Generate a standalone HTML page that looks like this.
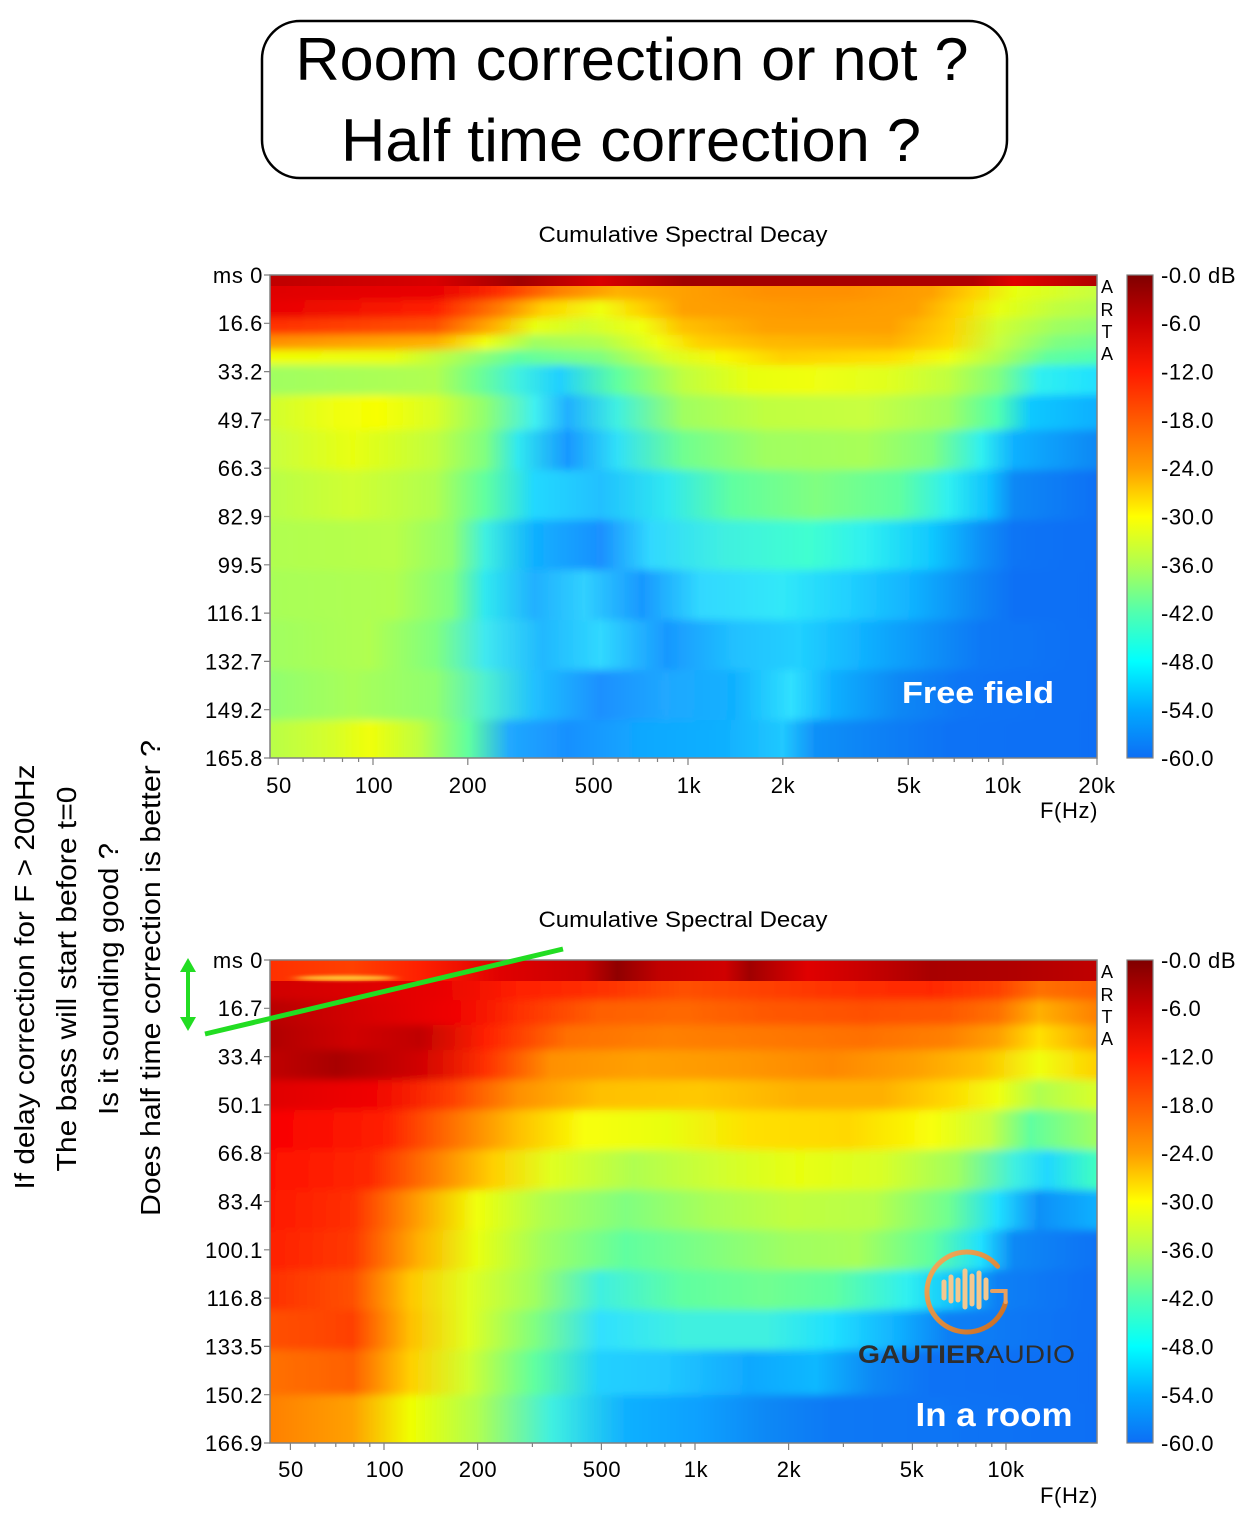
<!DOCTYPE html>
<html><head><meta charset="utf-8"><style>
html,body{margin:0;padding:0;background:#fff}
svg{display:block}
text{font-family:"Liberation Sans",Arial,sans-serif}
</style></head><body>
<svg xmlns="http://www.w3.org/2000/svg" width="1257" height="1517" viewBox="0 0 1257 1517">
<defs>
<filter id="vb" x="0" y="-0.05" width="1" height="1.1"><feGaussianBlur stdDeviation="0 4"/></filter>
<filter id="sb" x="-0.5" y="-2" width="2" height="5"><feGaussianBlur stdDeviation="6 1.5"/></filter>
<clipPath id="c1"><rect x="270" y="275" width="827" height="483"/></clipPath>
<clipPath id="c2"><rect x="270" y="960" width="827" height="483"/></clipPath>
<linearGradient id="cb" x1="0" y1="0" x2="0" y2="1">
<stop offset="0" stop-color="#7f0000"/><stop offset="0.1" stop-color="#c80000"/><stop offset="0.2" stop-color="#ff1a00"/><stop offset="0.3" stop-color="#ff5a00"/><stop offset="0.4" stop-color="#ff9c00"/><stop offset="0.5" stop-color="#ffff00"/><stop offset="0.6" stop-color="#b0ff50"/><stop offset="0.7" stop-color="#50ffb0"/><stop offset="0.8" stop-color="#00ffff"/><stop offset="0.9" stop-color="#00aaff"/><stop offset="1" stop-color="#0d6ef5"/>
</linearGradient>
<linearGradient id="a0"><stop offset="0" stop-color="#c00000"/><stop offset="0.2" stop-color="#d80000"/><stop offset="0.3" stop-color="#a00000"/><stop offset="0.4" stop-color="#d80000"/><stop offset="0.5" stop-color="#a00000"/><stop offset="0.7" stop-color="#a80000"/><stop offset="0.85" stop-color="#b00000"/><stop offset="0.9" stop-color="#e00000"/><stop offset="1" stop-color="#b00000"/></linearGradient>
<linearGradient id="a1"><stop offset="0" stop-color="#e00000"/><stop offset="0.2" stop-color="#e80000"/><stop offset="0.28" stop-color="#ff3000"/><stop offset="0.35" stop-color="#ff8000"/><stop offset="0.42" stop-color="#ffb000"/><stop offset="0.5" stop-color="#ffa000"/><stop offset="0.6" stop-color="#ff9000"/><stop offset="0.7" stop-color="#ff9000"/><stop offset="0.8" stop-color="#ffa000"/><stop offset="0.85" stop-color="#ffd000"/><stop offset="0.9" stop-color="#e8ff10"/><stop offset="1" stop-color="#c8ff40"/></linearGradient>
<linearGradient id="a2"><stop offset="0" stop-color="#e80000"/><stop offset="0.2" stop-color="#ff2000"/><stop offset="0.28" stop-color="#ff8000"/><stop offset="0.33" stop-color="#ffd000"/><stop offset="0.4" stop-color="#f0ff10"/><stop offset="0.45" stop-color="#ffd000"/><stop offset="0.5" stop-color="#ffa000"/><stop offset="0.65" stop-color="#ff9800"/><stop offset="0.78" stop-color="#ffa000"/><stop offset="0.83" stop-color="#ffd000"/><stop offset="0.88" stop-color="#e8ff10"/><stop offset="0.95" stop-color="#c0ff40"/><stop offset="1" stop-color="#b0ff50"/></linearGradient>
<linearGradient id="a3"><stop offset="0" stop-color="#ff3000"/><stop offset="0.2" stop-color="#ff5000"/><stop offset="0.27" stop-color="#ffb000"/><stop offset="0.32" stop-color="#e8ff10"/><stop offset="0.38" stop-color="#d0ff30"/><stop offset="0.45" stop-color="#f0ff10"/><stop offset="0.5" stop-color="#ffc000"/><stop offset="0.6" stop-color="#ffa000"/><stop offset="0.75" stop-color="#ffa000"/><stop offset="0.82" stop-color="#ffd000"/><stop offset="0.88" stop-color="#d0ff30"/><stop offset="0.95" stop-color="#a0ff60"/><stop offset="1" stop-color="#90ff70"/></linearGradient>
<linearGradient id="a4"><stop offset="0" stop-color="#ff9000"/><stop offset="0.2" stop-color="#ffb000"/><stop offset="0.26" stop-color="#f0ff10"/><stop offset="0.32" stop-color="#a0ff60"/><stop offset="0.4" stop-color="#b0ff50"/><stop offset="0.47" stop-color="#f0ff10"/><stop offset="0.52" stop-color="#ffd000"/><stop offset="0.6" stop-color="#ffb800"/><stop offset="0.75" stop-color="#ffb000"/><stop offset="0.82" stop-color="#ffd800"/><stop offset="0.88" stop-color="#c8ff40"/><stop offset="0.95" stop-color="#80ff80"/><stop offset="1" stop-color="#70ff90"/></linearGradient>
<linearGradient id="a5"><stop offset="0" stop-color="#f0ff00"/><stop offset="0.15" stop-color="#e8ff10"/><stop offset="0.22" stop-color="#b0ff50"/><stop offset="0.3" stop-color="#60ffa0"/><stop offset="0.4" stop-color="#80ff80"/><stop offset="0.48" stop-color="#d8ff28"/><stop offset="0.55" stop-color="#f8f800"/><stop offset="0.62" stop-color="#ffd000"/><stop offset="0.75" stop-color="#ffe000"/><stop offset="0.82" stop-color="#f0ff10"/><stop offset="0.88" stop-color="#b0ff50"/><stop offset="0.94" stop-color="#60ffa0"/><stop offset="1" stop-color="#50ffb0"/></linearGradient>
<linearGradient id="a6"><stop offset="0" stop-color="#a0ff60"/><stop offset="0.2" stop-color="#b0ff50"/><stop offset="0.25" stop-color="#70ff90"/><stop offset="0.3" stop-color="#40f0e0"/><stop offset="0.35" stop-color="#20d0ff"/><stop offset="0.42" stop-color="#60ffa0"/><stop offset="0.5" stop-color="#c0ff40"/><stop offset="0.58" stop-color="#e8ff10"/><stop offset="0.65" stop-color="#f0ff10"/><stop offset="0.75" stop-color="#e0ff20"/><stop offset="0.82" stop-color="#c0ff40"/><stop offset="0.88" stop-color="#80ff80"/><stop offset="0.93" stop-color="#30f0f0"/><stop offset="1" stop-color="#20e0ff"/></linearGradient>
<linearGradient id="a7"><stop offset="0" stop-color="#d0ff30"/><stop offset="0.08" stop-color="#f0ff10"/><stop offset="0.13" stop-color="#f8ff00"/><stop offset="0.2" stop-color="#d8ff28"/><stop offset="0.26" stop-color="#90ff70"/><stop offset="0.32" stop-color="#40f0f0"/><stop offset="0.36" stop-color="#20b0ff"/><stop offset="0.42" stop-color="#40f0e0"/><stop offset="0.5" stop-color="#a0ff60"/><stop offset="0.6" stop-color="#c0ff40"/><stop offset="0.72" stop-color="#c8ff40"/><stop offset="0.82" stop-color="#a0ff60"/><stop offset="0.88" stop-color="#50ffb0"/><stop offset="0.92" stop-color="#10c8ff"/><stop offset="1" stop-color="#10b0ff"/></linearGradient>
<linearGradient id="a8"><stop offset="0" stop-color="#c8ff40"/><stop offset="0.1" stop-color="#e8ff10"/><stop offset="0.2" stop-color="#c0ff40"/><stop offset="0.26" stop-color="#80ff80"/><stop offset="0.3" stop-color="#30e8f0"/><stop offset="0.36" stop-color="#1898ff"/><stop offset="0.42" stop-color="#30e0f8"/><stop offset="0.5" stop-color="#70ff90"/><stop offset="0.6" stop-color="#a0ff60"/><stop offset="0.72" stop-color="#a8ff58"/><stop offset="0.8" stop-color="#80ff80"/><stop offset="0.86" stop-color="#30f0f0"/><stop offset="0.9" stop-color="#10b0ff"/><stop offset="1" stop-color="#0d88f5"/></linearGradient>
<linearGradient id="a9"><stop offset="0" stop-color="#b8ff48"/><stop offset="0.1" stop-color="#d0ff30"/><stop offset="0.2" stop-color="#b0ff50"/><stop offset="0.26" stop-color="#60ffa0"/><stop offset="0.32" stop-color="#20d8ff"/><stop offset="0.4" stop-color="#20c0ff"/><stop offset="0.48" stop-color="#30e8f0"/><stop offset="0.56" stop-color="#60ffa0"/><stop offset="0.66" stop-color="#80ff80"/><stop offset="0.76" stop-color="#60ffa0"/><stop offset="0.82" stop-color="#30f0f0"/><stop offset="0.87" stop-color="#10c0ff"/><stop offset="0.9" stop-color="#0d88f5"/><stop offset="1" stop-color="#0d70f5"/></linearGradient>
<linearGradient id="a10"><stop offset="0" stop-color="#b0ff50"/><stop offset="0.15" stop-color="#b8ff48"/><stop offset="0.22" stop-color="#90ff70"/><stop offset="0.26" stop-color="#40f0e0"/><stop offset="0.32" stop-color="#10b0ff"/><stop offset="0.4" stop-color="#1a90ff"/><stop offset="0.46" stop-color="#30d8ff"/><stop offset="0.55" stop-color="#40f0e0"/><stop offset="0.65" stop-color="#40ffd0"/><stop offset="0.72" stop-color="#30f0f0"/><stop offset="0.8" stop-color="#10c8ff"/><stop offset="0.86" stop-color="#0d90f8"/><stop offset="0.9" stop-color="#0d74f5"/><stop offset="1" stop-color="#0d6ef5"/></linearGradient>
<linearGradient id="a11"><stop offset="0" stop-color="#a8ff58"/><stop offset="0.15" stop-color="#b0ff50"/><stop offset="0.22" stop-color="#80ff80"/><stop offset="0.26" stop-color="#30e8f0"/><stop offset="0.32" stop-color="#20b0ff"/><stop offset="0.38" stop-color="#30d0ff"/><stop offset="0.45" stop-color="#1898ff"/><stop offset="0.52" stop-color="#30d8ff"/><stop offset="0.62" stop-color="#30e8f8"/><stop offset="0.7" stop-color="#20d0ff"/><stop offset="0.78" stop-color="#10b0ff"/><stop offset="0.85" stop-color="#0d88f5"/><stop offset="0.9" stop-color="#0d70f5"/><stop offset="1" stop-color="#0d6ef5"/></linearGradient>
<linearGradient id="a12"><stop offset="0" stop-color="#a0ff60"/><stop offset="0.12" stop-color="#b0ff50"/><stop offset="0.2" stop-color="#80ff80"/><stop offset="0.26" stop-color="#40e8f0"/><stop offset="0.33" stop-color="#20b8ff"/><stop offset="0.4" stop-color="#30d8ff"/><stop offset="0.48" stop-color="#1898ff"/><stop offset="0.56" stop-color="#20c0ff"/><stop offset="0.64" stop-color="#20d0ff"/><stop offset="0.72" stop-color="#10b0ff"/><stop offset="0.8" stop-color="#0d90f8"/><stop offset="0.86" stop-color="#0d78f5"/><stop offset="1" stop-color="#0d6ef5"/></linearGradient>
<linearGradient id="a13"><stop offset="0" stop-color="#90ff70"/><stop offset="0.1" stop-color="#a8ff58"/><stop offset="0.2" stop-color="#90ff70"/><stop offset="0.26" stop-color="#50f0d0"/><stop offset="0.32" stop-color="#20c0ff"/><stop offset="0.4" stop-color="#1a90ff"/><stop offset="0.48" stop-color="#20a8ff"/><stop offset="0.56" stop-color="#10b0ff"/><stop offset="0.63" stop-color="#30e0ff"/><stop offset="0.68" stop-color="#10b0ff"/><stop offset="0.76" stop-color="#0d88f5"/><stop offset="0.84" stop-color="#0d74f5"/><stop offset="1" stop-color="#0d6ef5"/></linearGradient>
<linearGradient id="a14"><stop offset="0" stop-color="#b8ff48"/><stop offset="0.08" stop-color="#d8ff28"/><stop offset="0.12" stop-color="#f0ff08"/><stop offset="0.18" stop-color="#c0ff40"/><stop offset="0.24" stop-color="#60ffa0"/><stop offset="0.29" stop-color="#20a8ff"/><stop offset="0.36" stop-color="#1890ff"/><stop offset="0.45" stop-color="#10a8ff"/><stop offset="0.55" stop-color="#10b0ff"/><stop offset="0.62" stop-color="#20c8ff"/><stop offset="0.66" stop-color="#1090f8"/><stop offset="0.74" stop-color="#0d80f5"/><stop offset="0.82" stop-color="#0d72f5"/><stop offset="1" stop-color="#0d6ef5"/></linearGradient>

<linearGradient id="b0"><stop offset="0" stop-color="#ff3000"/><stop offset="0.1" stop-color="#ff4000"/><stop offset="0.18" stop-color="#ff2000"/><stop offset="0.28" stop-color="#e00000"/><stop offset="0.38" stop-color="#c80000"/><stop offset="0.42" stop-color="#900000"/><stop offset="0.47" stop-color="#c00000"/><stop offset="0.55" stop-color="#d00000"/><stop offset="0.58" stop-color="#a00000"/><stop offset="0.65" stop-color="#e00000"/><stop offset="0.72" stop-color="#c80000"/><stop offset="0.8" stop-color="#a80000"/><stop offset="0.9" stop-color="#b00000"/><stop offset="1" stop-color="#c00000"/></linearGradient>
<linearGradient id="b1"><stop offset="0" stop-color="#d00000"/><stop offset="0.2" stop-color="#e80000"/><stop offset="0.3" stop-color="#ff2000"/><stop offset="0.4" stop-color="#ff3000"/><stop offset="0.5" stop-color="#ff5000"/><stop offset="0.6" stop-color="#ff4000"/><stop offset="0.7" stop-color="#ff3000"/><stop offset="0.8" stop-color="#ff2800"/><stop offset="0.88" stop-color="#ff4000"/><stop offset="0.93" stop-color="#ff7000"/><stop offset="1" stop-color="#ff6000"/></linearGradient>
<linearGradient id="b2"><stop offset="0" stop-color="#b80000"/><stop offset="0.12" stop-color="#d80000"/><stop offset="0.22" stop-color="#f00000"/><stop offset="0.3" stop-color="#ff3000"/><stop offset="0.4" stop-color="#ff6000"/><stop offset="0.5" stop-color="#ff6800"/><stop offset="0.6" stop-color="#ff5800"/><stop offset="0.72" stop-color="#ff5000"/><stop offset="0.82" stop-color="#ff5800"/><stop offset="0.88" stop-color="#ff7000"/><stop offset="0.93" stop-color="#ffb000"/><stop offset="1" stop-color="#ff8000"/></linearGradient>
<linearGradient id="b3"><stop offset="0" stop-color="#b00000"/><stop offset="0.1" stop-color="#d00000"/><stop offset="0.18" stop-color="#c00000"/><stop offset="0.26" stop-color="#ff2000"/><stop offset="0.36" stop-color="#ff7000"/><stop offset="0.48" stop-color="#ff8000"/><stop offset="0.6" stop-color="#ff7800"/><stop offset="0.72" stop-color="#ff7000"/><stop offset="0.82" stop-color="#ff8000"/><stop offset="0.88" stop-color="#ffa000"/><stop offset="0.93" stop-color="#ffe000"/><stop offset="1" stop-color="#ffa000"/></linearGradient>
<linearGradient id="b4"><stop offset="0" stop-color="#c00000"/><stop offset="0.08" stop-color="#a80000"/><stop offset="0.18" stop-color="#d00000"/><stop offset="0.26" stop-color="#ff3000"/><stop offset="0.34" stop-color="#ff9000"/><stop offset="0.45" stop-color="#ffa000"/><stop offset="0.56" stop-color="#ff9800"/><stop offset="0.68" stop-color="#ff8800"/><stop offset="0.78" stop-color="#ffa000"/><stop offset="0.86" stop-color="#ffc000"/><stop offset="0.93" stop-color="#f0ff10"/><stop offset="1" stop-color="#ffd000"/></linearGradient>
<linearGradient id="b5"><stop offset="0" stop-color="#e00000"/><stop offset="0.12" stop-color="#f00000"/><stop offset="0.22" stop-color="#ff4000"/><stop offset="0.3" stop-color="#ff9000"/><stop offset="0.4" stop-color="#ffc000"/><stop offset="0.52" stop-color="#ffc800"/><stop offset="0.64" stop-color="#ffb000"/><stop offset="0.74" stop-color="#ffb000"/><stop offset="0.82" stop-color="#ffd800"/><stop offset="0.88" stop-color="#f0ff10"/><stop offset="0.93" stop-color="#b0ff50"/><stop offset="1" stop-color="#d8ff28"/></linearGradient>
<linearGradient id="b6"><stop offset="0" stop-color="#f80000"/><stop offset="0.14" stop-color="#ff2000"/><stop offset="0.22" stop-color="#ff7000"/><stop offset="0.3" stop-color="#ffc000"/><stop offset="0.38" stop-color="#f8ff08"/><stop offset="0.48" stop-color="#e8ff10"/><stop offset="0.58" stop-color="#ffe000"/><stop offset="0.7" stop-color="#ffd800"/><stop offset="0.8" stop-color="#f8ff08"/><stop offset="0.87" stop-color="#c8ff40"/><stop offset="0.92" stop-color="#60ffa0"/><stop offset="1" stop-color="#a0ff60"/></linearGradient>
<linearGradient id="b7"><stop offset="0" stop-color="#ff1000"/><stop offset="0.12" stop-color="#ff2800"/><stop offset="0.2" stop-color="#ff8000"/><stop offset="0.27" stop-color="#ffd000"/><stop offset="0.34" stop-color="#e0ff20"/><stop offset="0.44" stop-color="#b0ff50"/><stop offset="0.54" stop-color="#d0ff30"/><stop offset="0.64" stop-color="#e8ff10"/><stop offset="0.74" stop-color="#d8ff28"/><stop offset="0.83" stop-color="#a0ff60"/><stop offset="0.9" stop-color="#40f0e0"/><stop offset="0.94" stop-color="#20d8ff"/><stop offset="1" stop-color="#40ffc0"/></linearGradient>
<linearGradient id="b8"><stop offset="0" stop-color="#ff1800"/><stop offset="0.1" stop-color="#ff3000"/><stop offset="0.18" stop-color="#ffa000"/><stop offset="0.25" stop-color="#f0ff08"/><stop offset="0.33" stop-color="#b0ff50"/><stop offset="0.43" stop-color="#80ff80"/><stop offset="0.53" stop-color="#a8ff58"/><stop offset="0.63" stop-color="#c0ff40"/><stop offset="0.73" stop-color="#b8ff48"/><stop offset="0.82" stop-color="#70ff90"/><stop offset="0.88" stop-color="#20e0ff"/><stop offset="0.93" stop-color="#1090f8"/><stop offset="1" stop-color="#10b0ff"/></linearGradient>
<linearGradient id="b9"><stop offset="0" stop-color="#ff2000"/><stop offset="0.1" stop-color="#ff3800"/><stop offset="0.18" stop-color="#ffb000"/><stop offset="0.25" stop-color="#e8ff10"/><stop offset="0.33" stop-color="#a0ff60"/><stop offset="0.43" stop-color="#60ffa0"/><stop offset="0.53" stop-color="#80ff80"/><stop offset="0.63" stop-color="#a0ff60"/><stop offset="0.71" stop-color="#a8ff58"/><stop offset="0.8" stop-color="#60ffa0"/><stop offset="0.86" stop-color="#20e0ff"/><stop offset="0.9" stop-color="#0d88f5"/><stop offset="1" stop-color="#0d72f5"/></linearGradient>
<linearGradient id="b10"><stop offset="0" stop-color="#ff3000"/><stop offset="0.1" stop-color="#ff5000"/><stop offset="0.17" stop-color="#ffc800"/><stop offset="0.24" stop-color="#e0ff20"/><stop offset="0.32" stop-color="#a0ff60"/><stop offset="0.4" stop-color="#40f0e0"/><stop offset="0.5" stop-color="#60ffa0"/><stop offset="0.6" stop-color="#70ff90"/><stop offset="0.68" stop-color="#60ffa0"/><stop offset="0.77" stop-color="#30f0f0"/><stop offset="0.83" stop-color="#10c0ff"/><stop offset="0.88" stop-color="#0d80f5"/><stop offset="1" stop-color="#0d6ef5"/></linearGradient>
<linearGradient id="b11"><stop offset="0" stop-color="#ff5000"/><stop offset="0.1" stop-color="#ff4000"/><stop offset="0.17" stop-color="#ffc000"/><stop offset="0.24" stop-color="#e0ff20"/><stop offset="0.32" stop-color="#80ff80"/><stop offset="0.4" stop-color="#30e0ff"/><stop offset="0.5" stop-color="#40f0e0"/><stop offset="0.6" stop-color="#40f0e0"/><stop offset="0.68" stop-color="#20e0ff"/><stop offset="0.76" stop-color="#10b0ff"/><stop offset="0.82" stop-color="#0d80f5"/><stop offset="1" stop-color="#0d6ef5"/></linearGradient>
<linearGradient id="b12"><stop offset="0" stop-color="#ff7000"/><stop offset="0.1" stop-color="#ff6000"/><stop offset="0.17" stop-color="#ffd000"/><stop offset="0.24" stop-color="#d0ff30"/><stop offset="0.32" stop-color="#60ffa0"/><stop offset="0.4" stop-color="#20d0ff"/><stop offset="0.48" stop-color="#20c8ff"/><stop offset="0.58" stop-color="#10a8ff"/><stop offset="0.66" stop-color="#10b8ff"/><stop offset="0.73" stop-color="#0d88f5"/><stop offset="0.8" stop-color="#0d72f5"/><stop offset="1" stop-color="#0d6ef5"/></linearGradient>
<linearGradient id="b13"><stop offset="0" stop-color="#ff8000"/><stop offset="0.1" stop-color="#ffa000"/><stop offset="0.17" stop-color="#f0ff00"/><stop offset="0.25" stop-color="#b0ff50"/><stop offset="0.34" stop-color="#40f0e0"/><stop offset="0.43" stop-color="#10b0ff"/><stop offset="0.52" stop-color="#10a0ff"/><stop offset="0.6" stop-color="#0d88f5"/><stop offset="0.68" stop-color="#0d78f5"/><stop offset="1" stop-color="#0d6ef5"/></linearGradient>
<linearGradient id="logo" x1="0" y1="0" x2="1" y2="1"><stop offset="0" stop-color="#f3b060"/><stop offset="1" stop-color="#c86a20"/></linearGradient>
</defs>

<rect width="1257" height="1517" fill="#fff"/>

<!-- Title box -->
<rect x="262" y="21" width="745" height="157" rx="38" ry="38" fill="none" stroke="#000" stroke-width="2.5"/>
<text x="632" y="80" font-size="60" text-anchor="middle" textLength="673" lengthAdjust="spacingAndGlyphs">Room correction or not ?</text>
<text x="631" y="161" font-size="60" text-anchor="middle" textLength="580" lengthAdjust="spacingAndGlyphs">Half time correction ?</text>

<!-- Chart 1 -->
<text x="683" y="242" font-size="22" text-anchor="middle" textLength="289" lengthAdjust="spacingAndGlyphs">Cumulative Spectral Decay</text>
<g clip-path="url(#c1)">
<g filter="url(#vb)">
<rect x="270" y="265" width="827" height="35" fill="url(#a1)"/>
<rect x="270" y="300" width="827" height="18" fill="url(#a2)"/>
<rect x="270" y="318" width="827" height="17" fill="url(#a3)"/>
<rect x="270" y="335" width="827" height="15" fill="url(#a4)"/>
<rect x="270" y="350" width="827" height="15" fill="url(#a5)"/>
<rect x="270" y="365" width="827" height="30" fill="url(#a6)"/>
<rect x="270" y="395" width="827" height="35" fill="url(#a7)"/>
<rect x="270" y="430" width="827" height="40" fill="url(#a8)"/>
<rect x="270" y="470" width="827" height="50" fill="url(#a9)"/>
<rect x="270" y="520" width="827" height="50" fill="url(#a10)"/>
<rect x="270" y="570" width="827" height="50" fill="url(#a11)"/>
<rect x="270" y="620" width="827" height="50" fill="url(#a12)"/>
<rect x="270" y="670" width="827" height="50" fill="url(#a13)"/>
<rect x="270" y="720" width="827" height="55" fill="url(#a14)"/>
</g>
<rect x="270" y="275" width="827" height="11" fill="url(#a0)"/>
</g>
<rect x="270" y="275" width="827" height="483" fill="none" stroke="#808080" stroke-width="1.5"/>
<text x="978" y="703" font-size="31" font-weight="bold" fill="#fff" text-anchor="middle" textLength="152" lengthAdjust="spacingAndGlyphs">Free field</text>

<g stroke="#808080" stroke-width="1.2">
<path d="M264 275H270M264 323.3H270M264 371.6H270M264 419.9H270M264 468.2H270M264 516.5H270M264 564.8H270M264 613.1H270M264 661.4H270M264 709.7H270M264 758H270"/>
<path d="M278.2 758v7M373 758v7M467.8 758v7M593.2 758v7M688 758v7M782.8 758v7M908.2 758v7M1003 758v7M1097 758v7M303.1 758v4M324.2 758v4M342.5 758v4M358.6 758v4M523.3 758v4M562.6 758v4M618.1 758v4M639.2 758v4M657.5 758v4M673.6 758v4M838.3 758v4M877.6 758v4M933.1 758v4M954.2 758v4M972.5 758v4M988.6 758v4"/>
</g>
<g font-size="22" text-anchor="end" letter-spacing="0.6">
<text x="263" y="283">ms 0</text><text x="263" y="331">16.6</text><text x="263" y="379.6">33.2</text><text x="263" y="428">49.7</text><text x="263" y="476">66.3</text><text x="263" y="524.5">82.9</text><text x="263" y="573">99.5</text><text x="263" y="621">116.1</text><text x="263" y="669.5">132.7</text><text x="263" y="718">149.2</text><text x="263" y="766">165.8</text>
</g>
<g font-size="22" text-anchor="middle" letter-spacing="0.6">
<text x="279" y="793">50</text><text x="374" y="793">100</text><text x="468" y="793">200</text><text x="594" y="793">500</text><text x="689" y="793">1k</text><text x="783" y="793">2k</text><text x="909" y="793">5k</text><text x="1003" y="793">10k</text><text x="1097" y="793">20k</text>
</g>
<text x="1098" y="818" font-size="22" text-anchor="end" letter-spacing="0.6">F(Hz)</text>
<g font-size="18" text-anchor="middle">
<text x="1107" y="293">A</text><text x="1107" y="316">R</text><text x="1107" y="338">T</text><text x="1107" y="360">A</text>
</g>
<rect x="1127" y="275" width="26" height="483" fill="url(#cb)" stroke="#808080" stroke-width="1.2"/>
<g font-size="22" letter-spacing="0.6">
<text x="1161" y="283">-0.0 dB</text><text x="1161" y="331">-6.0</text><text x="1161" y="379.6">-12.0</text><text x="1161" y="428">-18.0</text><text x="1161" y="476">-24.0</text><text x="1161" y="524.5">-30.0</text><text x="1161" y="573">-36.0</text><text x="1161" y="621">-42.0</text><text x="1161" y="669.5">-48.0</text><text x="1161" y="718">-54.0</text><text x="1161" y="766">-60.0</text>
</g>

<!-- Chart 2 -->
<text x="683" y="927" font-size="22" text-anchor="middle" textLength="289" lengthAdjust="spacingAndGlyphs">Cumulative Spectral Decay</text>
<g clip-path="url(#c2)">
<g filter="url(#vb)">
<rect x="270" y="970" width="827" height="30" fill="url(#b1)"/>
<rect x="270" y="1000" width="827" height="25" fill="url(#b2)"/>
<rect x="270" y="1025" width="827" height="25" fill="url(#b3)"/>
<rect x="270" y="1050" width="827" height="30" fill="url(#b4)"/>
<rect x="270" y="1080" width="827" height="30" fill="url(#b5)"/>
<rect x="270" y="1110" width="827" height="40" fill="url(#b6)"/>
<rect x="270" y="1150" width="827" height="40" fill="url(#b7)"/>
<rect x="270" y="1190" width="827" height="40" fill="url(#b8)"/>
<rect x="270" y="1230" width="827" height="40" fill="url(#b9)"/>
<rect x="270" y="1270" width="827" height="40" fill="url(#b10)"/>
<rect x="270" y="1310" width="827" height="40" fill="url(#b11)"/>
<rect x="270" y="1350" width="827" height="45" fill="url(#b12)"/>
<rect x="270" y="1395" width="827" height="60" fill="url(#b13)"/>
</g>
<rect x="270" y="960" width="827" height="21" fill="url(#b0)"/>
<ellipse cx="345" cy="978" rx="50" ry="2.5" fill="#ffe040" filter="url(#sb)" opacity="0.85"/>
</g>
<rect x="270" y="960" width="827" height="483" fill="none" stroke="#808080" stroke-width="1.5"/>

<g stroke="#808080" stroke-width="1.2">
<path d="M264 960H270M264 1008.3H270M264 1056.6H270M264 1104.9H270M264 1153.2H270M264 1201.5H270M264 1249.8H270M264 1298.1H270M264 1346.4H270M264 1394.7H270M264 1443H270"/>
<path d="M290.4 1443v7M384 1443v7M477.6 1443v7M601.4 1443v7M695 1443v7M788.6 1443v7M912.4 1443v7M1006 1443v7M315 1443v4M335.8 1443v4M353.9 1443v4M369.8 1443v4M532.4 1443v4M571.2 1443v4M626 1443v4M646.8 1443v4M664.9 1443v4M680.8 1443v4M843.4 1443v4M882.2 1443v4M937 1443v4M957.8 1443v4M975.9 1443v4M991.8 1443v4"/>
</g>
<g font-size="22" text-anchor="end" letter-spacing="0.6">
<text x="263" y="968">ms 0</text><text x="263" y="1016">16.7</text><text x="263" y="1064.6">33.4</text><text x="263" y="1113">50.1</text><text x="263" y="1161">66.8</text><text x="263" y="1209.5">83.4</text><text x="263" y="1258">100.1</text><text x="263" y="1306">116.8</text><text x="263" y="1354.5">133.5</text><text x="263" y="1403">150.2</text><text x="263" y="1451">166.9</text>
</g>
<g font-size="22" text-anchor="middle" letter-spacing="0.6">
<text x="291" y="1477">50</text><text x="385" y="1477">100</text><text x="478" y="1477">200</text><text x="602" y="1477">500</text><text x="696" y="1477">1k</text><text x="789" y="1477">2k</text><text x="912" y="1477">5k</text><text x="1006" y="1477">10k</text>
</g>
<text x="1098" y="1503" font-size="22" text-anchor="end" letter-spacing="0.6">F(Hz)</text>
<g font-size="18" text-anchor="middle">
<text x="1107" y="978">A</text><text x="1107" y="1001">R</text><text x="1107" y="1023">T</text><text x="1107" y="1045">A</text>
</g>
<rect x="1127" y="960" width="26" height="483" fill="url(#cb)" stroke="#808080" stroke-width="1.2"/>
<g font-size="22" letter-spacing="0.6">
<text x="1161" y="968">-0.0 dB</text><text x="1161" y="1016">-6.0</text><text x="1161" y="1064.6">-12.0</text><text x="1161" y="1113">-18.0</text><text x="1161" y="1161">-24.0</text><text x="1161" y="1209.5">-30.0</text><text x="1161" y="1258">-36.0</text><text x="1161" y="1306">-42.0</text><text x="1161" y="1354.5">-48.0</text><text x="1161" y="1403">-54.0</text><text x="1161" y="1451">-60.0</text>
</g>

<!-- Logo -->
<path d="M997.6 1266.3 A40 40 0 1 0 1005.6 1302.4" fill="none" stroke="url(#logo)" stroke-width="5" stroke-linecap="round"/>
<path d="M1005.6 1302 L1005.6 1291 L992 1291" fill="none" stroke="#e8a060" stroke-width="4" stroke-linecap="round"/>
<g stroke="#f3c890" stroke-width="5" stroke-linecap="round">
<path d="M944 1282v16M951 1277v24M958 1280v20M965 1271v36M972 1276v28M979 1273v34M986 1280v18"/>
</g>
<text x="858" y="1363" font-size="25" fill="#2e2e2e" textLength="217" lengthAdjust="spacingAndGlyphs"><tspan font-weight="bold">GAUTIER</tspan><tspan>AUDIO</tspan></text>
<text x="994" y="1426" font-size="33" font-weight="bold" fill="#fff" text-anchor="middle" textLength="157" lengthAdjust="spacingAndGlyphs">In a room</text>

<!-- Green annotations -->
<line x1="205" y1="1034" x2="563" y2="949" stroke="#22dd22" stroke-width="5"/>
<line x1="188" y1="968" x2="188" y2="1021" stroke="#22dd22" stroke-width="4"/>
<polygon points="188,958 180,972 196,972" fill="#22dd22"/>
<polygon points="188,1031 180,1017 196,1017" fill="#22dd22"/>

<!-- Rotated side text -->
<g font-size="28" text-anchor="middle">
<text transform="translate(34,977) rotate(-90)" textLength="425" lengthAdjust="spacingAndGlyphs">If delay correction for F &gt; 200Hz</text>
<text transform="translate(76,979) rotate(-90)" textLength="385" lengthAdjust="spacingAndGlyphs">The bass will start before t=0</text>
<text transform="translate(118,979) rotate(-90)" textLength="272" lengthAdjust="spacingAndGlyphs">Is it sounding good ?</text>
<text transform="translate(160,978) rotate(-90)" textLength="476" lengthAdjust="spacingAndGlyphs">Does half time correction is better ?</text>
</g>
</svg>
</body></html>
